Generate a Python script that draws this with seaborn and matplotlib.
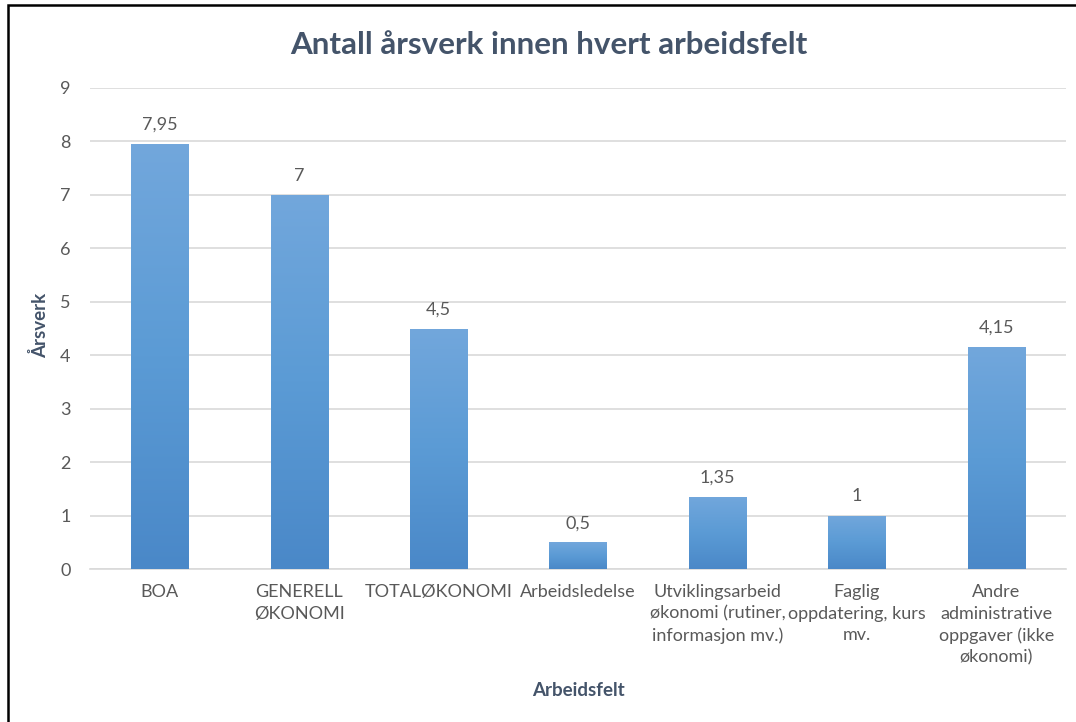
import numpy as np
import pandas as pd
import matplotlib
matplotlib.use("Agg")
import matplotlib.pyplot as plt
import seaborn as sns
from matplotlib.colors import LinearSegmentedColormap
from matplotlib.patches import Rectangle

# Data
categories = ["BOA", "GENERELL\nØKONOMI", "TOTALØKONOMI", "Arbeidsledelse",
              "Utviklingsarbeid\nøkonomi (rutiner,\ninformasjon mv.)",
              "Faglig\noppdatering, kurs\nmv.",
              "Andre\nadministrative\noppgaver (ikke\nøkonomi)"]
values = [7.95, 7, 4.5, 0.5, 1.35, 1, 4.15]
value_labels = ["7,95", "7", "4,5", "0,5", "1,35", "1", "4,15"]
y_ticks = list(range(0, 10))

df = pd.DataFrame({"Arbeidsfelt": categories, "Årsverk": values})

sns.set_theme(style="white")
plt.rcParams["font.family"] = ["Lato", "DejaVu Sans"]

text_col = "#595959"
grid_col = "#d9d9d9"
title_col = "#44546a"

fig = plt.figure(figsize=(10.76, 7.22), dpi=100)
ax = fig.add_axes([90 / 1076, 1 - 569 / 722, 976 / 1076, 481 / 722])

sns.barplot(data=df, x="Arbeidsfelt", y="Årsverk", color="#5b9bd5",
            width=0.41, ax=ax, zorder=3)

# vertical gradient on each bar (light top, darker bottom)
cmap = LinearSegmentedColormap.from_list("bar", ["#4a88c8", "#5b9bd5", "#72a7dc"])
grad = np.linspace(0, 1, 256).reshape(-1, 1)
for bar in ax.patches:
    x0, y0 = bar.get_x(), bar.get_y()
    w, h = bar.get_width(), bar.get_height()
    im = ax.imshow(grad, cmap=cmap, origin="lower", aspect="auto",
                   extent=[x0, x0 + w, y0, y0 + h], zorder=4)
    im.set_clip_path(bar)
    bar.set_edgecolor("none")

for i, (v, lab) in enumerate(zip(values, value_labels)):
    ax.annotate(lab, (i, v), xytext=(0, 8), textcoords="offset points",
                ha="center", va="bottom", fontsize=13, color=text_col)

ax.set_xlim(-0.5, len(categories) - 0.5)
ax.set_ylim(0, 9)
ax.set_yticks(y_ticks)
ax.yaxis.grid(True, color=grid_col, linewidth=1.2, zorder=0)
ax.set_axisbelow(True)
for s in ["top", "right", "left"]:
    ax.spines[s].set_visible(False)
ax.spines["bottom"].set_color(grid_col)
ax.spines["bottom"].set_linewidth(1.2)

ax.tick_params(axis="y", length=0, pad=14, labelsize=13, labelcolor=text_col)
ax.tick_params(axis="x", which="major", length=0, pad=11, labelsize=13,
               labelcolor=text_col)
ax.set_xticks(np.arange(-0.5, len(categories), 1.0), minor=True)
ax.tick_params(axis="x", which="minor", length=6, color=grid_col, width=1.2)
for t in ax.get_xticklabels():
    t.set_linespacing(1.42)
    t.set_va("top")

ax.set_xlabel("Arbeidsfelt", fontsize=13.5, fontweight="bold", color=title_col)
ax.set_ylabel("Årsverk", fontsize=13.5, fontweight="bold", color=title_col)
ax.xaxis.set_label_coords(488 / 976, -(690 - 569) / 481)
ax.yaxis.set_label_coords(-(90 - 40) / 976, (569 - 325) / 481)
ax.xaxis.label.set_va("center")
ax.yaxis.label.set_va("center")

fig.text(549 / 1076, 1 - 45 / 722, "Antall årsverk innen hvert arbeidsfelt",
         ha="center", va="center", fontsize=22.6, fontweight="bold", color=title_col)

# frame around the chart
fig.patches.append(Rectangle((8 / 1076, -0.05), 1.2, 1 - 5 / 722 + 0.05,
                             transform=fig.transFigure, fill=False,
                             edgecolor="black", linewidth=1.8, zorder=10))

fig.savefig("out.png", dpi=100)
